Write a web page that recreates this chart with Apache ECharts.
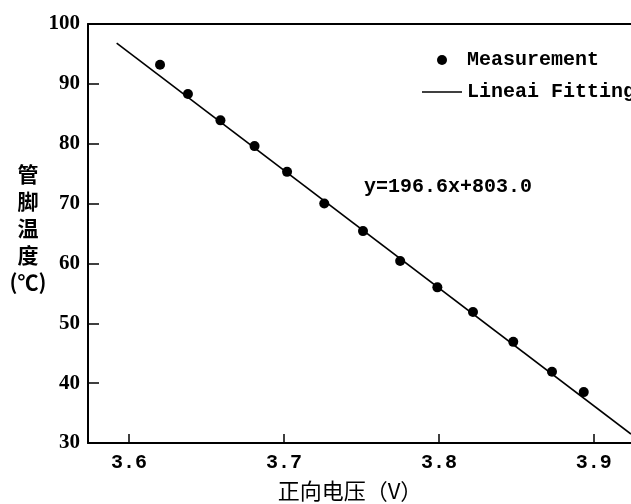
<!DOCTYPE html>
<html>
<head>
<meta charset="utf-8">
<script src="https://cdn.jsdelivr.net/npm/echarts@6/dist/echarts.min.js"></script>
<style>html,body{margin:0;padding:0;background:#fff;}#c{width:631px;height:504px;}</style>
</head>
<body>
<div id="c"></div>
<script>
// Measured points (forward voltage V, pin temperature °C)
const measVoltage = [3.620, 3.638, 3.659, 3.681, 3.702, 3.726, 3.751, 3.775, 3.799, 3.822, 3.848, 3.873, 3.8935];
const measTemp    = [93.2, 88.3, 83.9, 79.6, 75.3, 70.0, 65.4, 60.4, 56.0, 51.9, 46.9, 41.9, 38.5];
// Linear fit line end points
const fitVoltage = [3.592, 3.924];
const fitTemp    = [96.8, 31.5];
const xTicks = [3.6, 3.7, 3.8, 3.9];
const yTicks = [30, 40, 50, 60, 70, 80, 90, 100];
const seriesNames = ['Measurement', 'Lineai Fitting'];
const equationText = 'y=196.6x+803.0';
const xName = '正向电压（V）';
const yName = '管\n脚\n温\n度\n(℃)';

const chart = echarts.init(document.getElementById('c'), null, {renderer: 'canvas'});
const mono = 'Liberation Mono';
chart.setOption({
  animation: false,
  backgroundColor: '#fff',
  grid: {left: 88, top: 24, right: 0, bottom: 61, containLabel: false},
  legend: {
    orient: 'vertical', left: 417, top: 45, itemGap: 12,
    itemWidth: 40, itemHeight: 10,
    textStyle: {fontFamily: mono, fontSize: 20, fontWeight: 'bold', color: '#000'},
    data: [
      {name: seriesNames[0], icon: 'circle', itemStyle: {color: '#000'}},
      {name: seriesNames[1], icon: 'path://M0,0L40,0L40,1.6L0,1.6Z', itemStyle: {color: '#000'}}
    ]
  },
  xAxis: [{
    type: 'value', min: 3.5735, max: 3.924,
    axisLine: {show: true, onZero: false, lineStyle: {color: '#000', width: 2}},
    axisTick: {show: true, inside: true, length: 9, customValues: xTicks, lineStyle: {color: '#000', width: 1.5}},
    axisLabel: {customValues: xTicks, fontFamily: mono, fontSize: 20, fontWeight: 'bold', color: '#000', margin: 10,
      formatter: v => v.toFixed(1)},
    splitLine: {show: false}
  }, {
    type: 'value', position: 'top', min: 3.5735, max: 3.924,
    axisLine: {show: true, onZero: false, lineStyle: {color: '#000', width: 2}},
    axisTick: {show: false}, axisLabel: {show: false}, splitLine: {show: false}
  }],
  yAxis: {
    type: 'value', min: 30, max: 100, interval: 10,
    axisLine: {show: true, onZero: false, lineStyle: {color: '#000', width: 2}},
    axisTick: {show: true, inside: true, length: 11, lineStyle: {color: '#000', width: 1.5}},
    axisLabel: {fontFamily: 'Liberation Serif', fontSize: 21, fontWeight: 'bold', color: '#000', margin: 8,
      formatter: v => (yTicks.indexOf(v) >= 0 ? String(v) : '')},
    splitLine: {show: false}
  },
  graphic: [
    {type: 'text', left: 364, top: 177, style: {text: equationText, font: 'bold 20px "Liberation Mono"', fill: '#000'}},
    {type: 'text', x: 350, y: 480, style: {text: xName, font: '22px "Noto Sans CJK SC"', fill: '#000', align: 'center'}},
    {type: 'text', x: 28, y: 161, style: {text: yName, font: 'bold 21px "Noto Sans CJK SC"', fill: '#000',
      align: 'center', verticalAlign: 'top', lineHeight: 27}}
  ],
  series: [{
    name: seriesNames[0], type: 'scatter', symbol: 'circle', symbolSize: 10,
    itemStyle: {color: '#000', opacity: 1},
    data: measVoltage.map((v, i) => [v, measTemp[i]]),
    z: 3
  }, {
    name: seriesNames[1], type: 'line', symbol: 'none',
    lineStyle: {color: '#000', width: 1.6},
    itemStyle: {color: '#000'},
    data: fitVoltage.map((v, i) => [v, fitTemp[i]]),
    z: 2
  }]
});
</script>
</body>
</html>
